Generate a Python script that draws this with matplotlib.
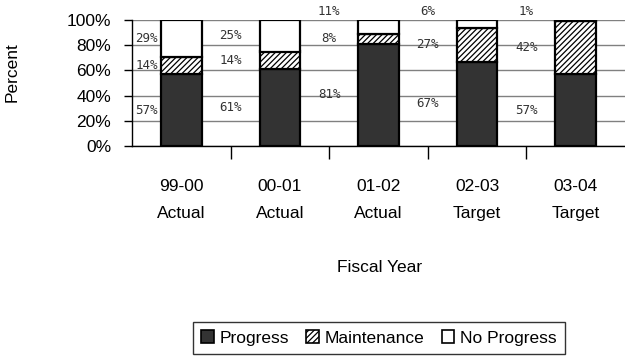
import matplotlib
matplotlib.use("Agg")
import matplotlib.pyplot as plt
from matplotlib.patches import Patch

years = ["99-00", "00-01", "01-02", "02-03", "03-04"]
status = ["Actual", "Actual", "Actual", "Target", "Target"]
progress = [57, 61, 81, 67, 57]
maintenance = [14, 14, 8, 27, 42]
no_progress = [29, 25, 11, 6, 1]

plt.rcParams["font.family"] = ["Liberation Sans", "DejaVu Sans"]
plt.rcParams["hatch.linewidth"] = 0.9

fig = plt.figure(figsize=(6.25, 3.6), dpi=100)
ax = fig.add_axes([132 / 625, 1 - 146 / 360, 493 / 625, 126 / 360])

x = list(range(len(years)))
width = 0.41
bar_kw = dict(width=width, edgecolor="black", linewidth=1.6, zorder=3)

ax.bar(x, progress, color="#333333", **bar_kw)
bottom2 = progress
ax.bar(x, maintenance, bottom=bottom2, color="white", hatch="//////", **bar_kw)
bottom3 = [p + m for p, m in zip(progress, maintenance)]
ax.bar(x, no_progress, bottom=bottom3, color="white", **bar_kw)

# value labels sit in the gap to the left of each bar
for i in x:
    left_edge = -0.5 if i == 0 else i - 1 + width / 2
    lx = (left_edge + i - width / 2) / 2
    segs = [(0, progress[i]), (progress[i], maintenance[i]), (bottom3[i], no_progress[i])]
    for k, (b, v) in enumerate(segs):
        ly = b + v / 2
        if k == 2 and v < 15:
            ly = 107
        ax.text(lx, ly, f"{v}%", ha="center", va="center", fontsize=9,
                family=["DejaVu Sans Mono"], color="#333333", clip_on=False)

ax.set_xlim(-0.5, 4.5)
ax.set_ylim(0, 100)
ax.set_yticks(range(0, 101, 20))
ax.set_yticklabels([f"{v}%" for v in range(0, 101, 20)], fontsize=12.5)
ax.yaxis.grid(True, color="#808080", linewidth=1, zorder=0)
ax.set_axisbelow(True)

ax.set_xticks(x)
ax.set_xticklabels([f"{y}\n{s}" for y, s in zip(years, status)], fontsize=12.5,
                   linespacing=2.0)
ax.set_xticks([i + 0.5 for i in x[:-1]], minor=True)
ax.tick_params(axis="x", which="major", length=0, pad=24)
ax.tick_params(axis="x", which="minor", length=9, width=1, direction="out")
ax.tick_params(axis="y", length=6, width=1, direction="out", pad=9)

for side in ["top", "right"]:
    ax.spines[side].set_visible(False)
for side in ["left", "bottom"]:
    ax.spines[side].set_linewidth(1)

fig.text(12 / 625, 1 - 72 / 360, "Percent", rotation=90, ha="center", va="center", fontsize=12.5)
fig.text(380 / 625, 1 - 267 / 360, "Fiscal Year", ha="center", va="center", fontsize=12.5)

handles = [
    Patch(facecolor="#333333", edgecolor="black", linewidth=1.2),
    Patch(facecolor="white", edgecolor="black", hatch="//////", linewidth=1.2),
    Patch(facecolor="white", edgecolor="black", linewidth=1.2),
]
leg = fig.legend(handles, ["Progress", "Maintenance", "No Progress"], loc="center",
                 bbox_to_anchor=(379 / 625, 1 - 338 / 360), ncol=3, fontsize=12.5,
                 frameon=True, fancybox=False, handlelength=0.7, handleheight=0.7,
                 handletextpad=0.35, columnspacing=1.0, borderpad=0.5)
leg.get_frame().set_edgecolor("black")
leg.get_frame().set_linewidth(1)

fig.savefig("out.png", dpi=100)
